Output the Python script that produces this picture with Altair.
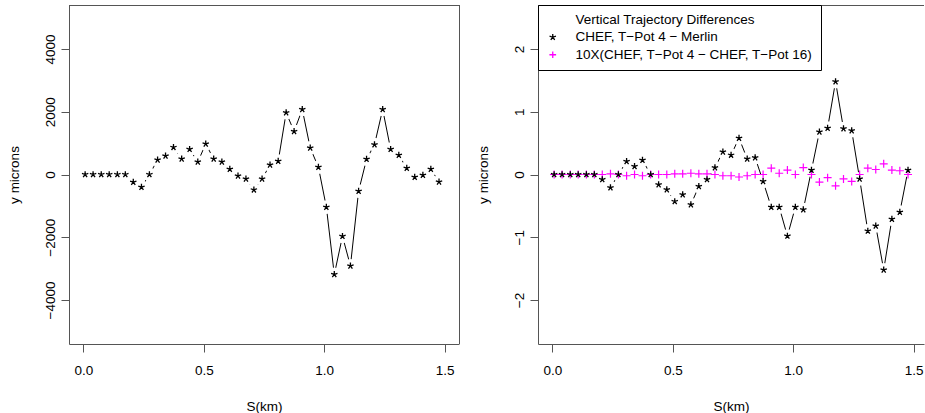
import altair as alt
import pandas as pd

# ---------------- data ----------------
s_km = [0.007, 0.040, 0.074, 0.107, 0.141, 0.174, 0.207, 0.241, 0.274, 0.308,
        0.341, 0.374, 0.408, 0.441, 0.475, 0.508, 0.541, 0.575, 0.608, 0.642,
        0.675, 0.708, 0.742, 0.775, 0.809, 0.842, 0.875, 0.909, 0.942, 0.976,
        1.009, 1.042, 1.076, 1.109, 1.143, 1.176, 1.209, 1.243, 1.276, 1.310,
        1.343, 1.376, 1.410, 1.443, 1.477]

left_microns = [0, 0, 0, 0, 0, 0, -244, -403, 0, 467,
                593, 867, 497, 804, 402, 974, 497, 402, 169, -42,
                -138, -487, -138, 307, 423, 1968, 1375, 2074, 846, 233,
                -1037, -3185, -1968, -2910, -529, 487, 952, 2074, 804, 614,
                201, -85, -21, 169, -233]

merlin_diff = [0, 0, 0, 0, 0, 0, -0.08, -0.21, 0, 0.21,
               0.13, 0.23, 0, -0.16, -0.24, -0.43, -0.32, -0.48, -0.19, -0.08,
               0.11, 0.36, 0.31, 0.58, 0.25, 0.27, -0.11, -0.52, -0.52, -0.98,
               -0.52, -0.56, 0.07, 0.68, 0.74, 1.48, 0.73, 0.70, -0.07, -0.90,
               -0.82, -1.52, -0.71, -0.60, 0.07]

tpot_diff_x10 = [0, 0, 0, 0, 0, 0, 0, 0.01, 0, -0.02,
                 0, -0.02, 0, 0, 0, 0.01, 0.01, 0.02, 0.01, 0.01,
                 0, -0.02, -0.02, -0.04, -0.02, 0, 0, 0.10, 0.02, 0.07,
                 0, 0.11, 0, -0.12, -0.05, -0.18, -0.07, -0.11, 0, 0.10,
                 0.08, 0.17, 0.07, 0.06, 0]

x_ticks = [0.0, 0.5, 1.0, 1.5]
left_y_ticks = [-4000, -2000, 0, 2000, 4000]
right_y_ticks = [-2, -1, 0, 1, 2]

legend_entries = ["Vertical Trajectory Differences",
                  "CHEF, T\u2212Pot 4 \u2212 Merlin",
                  "10X(CHEF, T\u2212Pot 4 \u2212 CHEF, T\u2212Pot 16)"]

# ---------------- styling ----------------
FONT = "Liberation Sans"
FS = 13.5
FRAME = "#555555"
STAR = "M0,0L0,-1M0,0L0.951,-0.309M0,0L0.588,0.809M0,0L-0.588,0.809M0,0L-0.951,-0.309"
PLUS = "M-1,0L1,0M0,-1L0,1"
entry_colors = ["white", "black", "#ff00ff"]
entry_shapes = ["circle", STAR, PLUS]

W_L, W_R, H = 390, 386, 339
GAP = 79
PX_PER_KM = W_L / 1.62
x_dom_left = [-0.06, 1.56]
x_dom_right = [-0.06, -0.06 + W_R / PX_PER_KM]

left_df = pd.DataFrame({"s": s_km, "y": left_microns})
black_df = pd.DataFrame({"s": s_km, "y": merlin_diff, "series": legend_entries[1]})
mag_df = pd.DataFrame({"s": s_km, "y": tpot_diff_x10, "series": legend_entries[2]})
one = pd.DataFrame({"k": [0]})


def x_axis():
    return alt.Axis(values=x_ticks, format=".1f", title="S(km)", grid=False,
                    domain=True, domainColor=FRAME, tickColor=FRAME, tickSize=8,
                    labelFont=FONT, labelFontSize=FS, labelColor="black",
                    labelBaseline="alphabetic", labelPadding=22, labelFlush=False,
                    labelOverlap=False,
                    titleFont=FONT, titleFontSize=FS, titleFontWeight="normal",
                    titleColor="black", titleY=66, titleBaseline="alphabetic")


def y_axis(vals):
    return alt.Axis(values=vals, format="d", title="y microns", grid=False,
                    domain=True, domainColor=FRAME, tickColor=FRAME, tickSize=8,
                    labelFont=FONT, labelFontSize=FS, labelColor="black",
                    labelAngle=270, labelAlign="center", labelBaseline="alphabetic",
                    labelPadding=7, labelOverlap=False, labelFlush=False,
                    titleFont=FONT, titleFontSize=FS, titleFontWeight="normal",
                    titleColor="black", titleAngle=270, titleX=-51, titleY=H / 2,
                    titleAlign="center", titleBaseline="alphabetic")


# ---------------- left panel ----------------
xl = alt.X("s:Q", scale=alt.Scale(domain=x_dom_left, nice=False, zero=False), axis=x_axis())
yl = alt.Y("y:Q", scale=alt.Scale(domain=[-5400, 5400], nice=False, zero=False),
           axis=y_axis(left_y_ticks))

l_line = alt.Chart(left_df).mark_line(color="black", strokeWidth=1).encode(x=xl, y=yl)
l_gap = alt.Chart(left_df).mark_point(filled=True, color="white", opacity=1,
                                      size=190, strokeWidth=0).encode(x=xl, y=yl)
l_pts = alt.Chart(left_df).mark_point(filled=False, color="black", opacity=1, size=45,
                                      strokeWidth=1.3, shape=STAR).encode(x=xl, y=yl)
l_top = alt.Chart(one).mark_rule(color=FRAME, strokeWidth=1).encode(
    x=alt.value(0), x2=alt.value(W_L + 0.5), y=alt.value(0.5))
l_right = alt.Chart(one).mark_rule(color=FRAME, strokeWidth=1).encode(
    x=alt.value(W_L + 0.5), y=alt.value(0), y2=alt.value(H))

left = alt.layer(l_line, l_gap, l_pts, l_top, l_right).properties(width=W_L, height=H)

# ---------------- right panel ----------------
xr = alt.X("s:Q", scale=alt.Scale(domain=x_dom_right, nice=False, zero=False), axis=x_axis())
yr = alt.Y("y:Q", scale=alt.Scale(domain=[-2.7, 2.7], nice=False, zero=False),
           axis=y_axis(right_y_ticks))

legend = alt.Legend(orient="none", legendX=W_L + GAP, legendY=0, title=None, padding=8,
                    strokeColor="black", fillColor="white",
                    labelFont=FONT, labelFontSize=FS, labelColor="black",
                    labelOffset=16, labelLimit=400, rowPadding=2.5,
                    symbolSize=45, symbolStrokeWidth=1.3)
color_enc = alt.Color("series:N", scale=alt.Scale(domain=legend_entries, range=entry_colors),
                      legend=legend)
shape_enc = alt.Shape("series:N", scale=alt.Scale(domain=legend_entries, range=entry_shapes),
                      legend=legend)

r_line = alt.Chart(black_df).mark_line(color="black", strokeWidth=1).encode(x=xr, y=yr)
r_gap = alt.Chart(black_df).mark_point(filled=True, color="white", opacity=1,
                                       size=190, strokeWidth=0).encode(x=xr, y=yr)
r_plus = alt.Chart(mag_df).mark_point(filled=False, opacity=1, size=64,
                                      strokeWidth=1.2).encode(x=xr, y=yr, color=color_enc,
                                                              shape=shape_enc)
r_star = alt.Chart(black_df).mark_point(filled=False, opacity=1, size=45,
                                        strokeWidth=1.3).encode(x=xr, y=yr, color=color_enc,
                                                                shape=shape_enc)
r_top = alt.Chart(one).mark_rule(color=FRAME, strokeWidth=1).encode(
    x=alt.value(0), x2=alt.value(W_R), y=alt.value(0.5))

right = alt.layer(r_line, r_gap, r_plus, r_star, r_top).properties(width=W_R, height=H)

chart = alt.hconcat(left, right, spacing=GAP, bounds="flush").properties(
    padding={"left": 7, "top": 4, "right": 0, "bottom": 0},
    background="white",
).configure_view(strokeWidth=0)

chart.save("out.html", embed_options={"renderer": "svg", "actions": False})
